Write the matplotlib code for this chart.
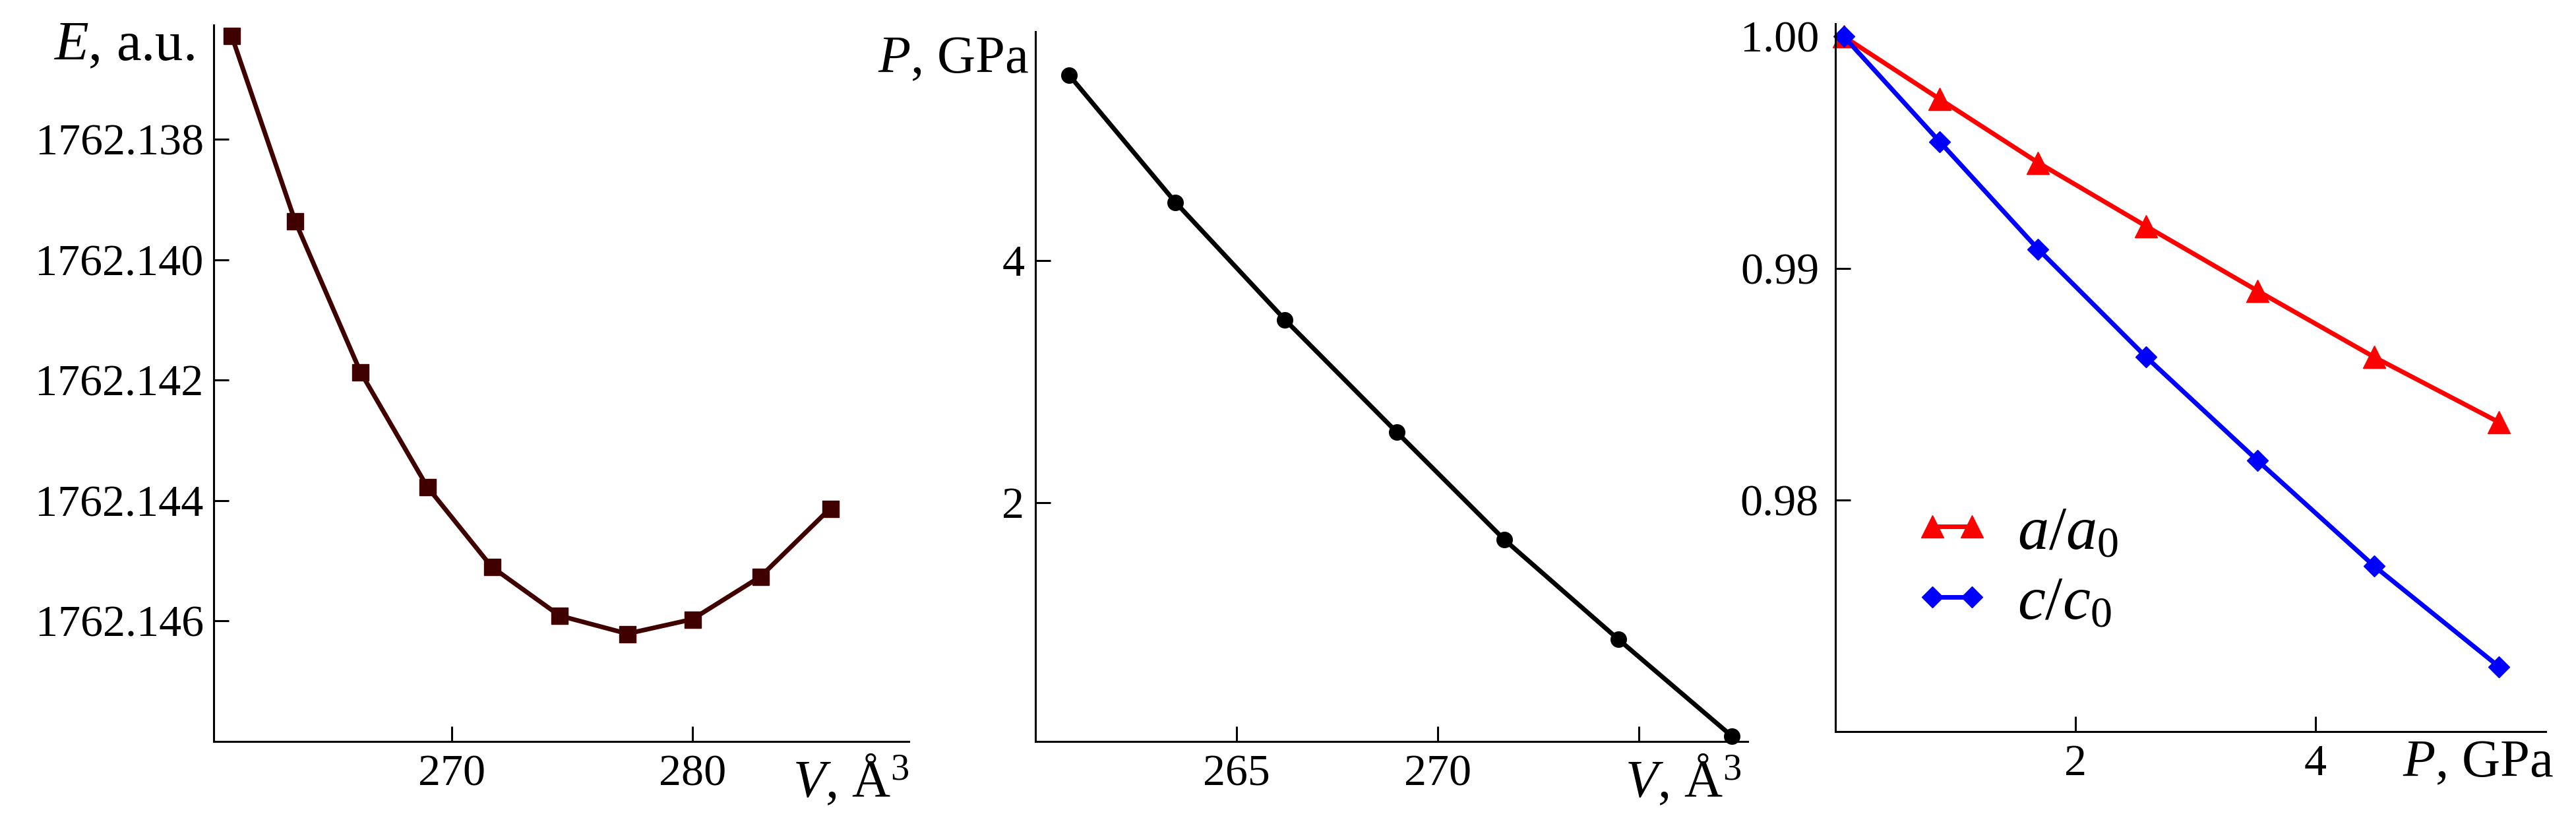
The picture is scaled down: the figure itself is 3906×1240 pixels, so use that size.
import matplotlib
matplotlib.use('Agg')
import matplotlib.pyplot as plt
from matplotlib.lines import Line2D
from matplotlib.legend_handler import HandlerLine2D
from matplotlib.ticker import FormatStrFormatter

# E(V) curve
volume = [260.84, 263.48, 266.20, 268.98, 271.66, 274.48, 277.30, 280.00, 282.84, 285.73]
energy = [1762.13627, 1762.13935, 1762.14186, 1762.14377, 1762.14510,
          1762.14591, 1762.14621, 1762.14597, 1762.14526, 1762.14413]

# P(V) curve
pv_volume = [260.84, 263.48, 266.20, 268.98, 271.66, 274.48, 277.30]
pv_pressure = [5.53, 4.48, 3.51, 2.58, 1.69, 0.87, 0.07]

# lattice ratios vs pressure
pressure = [0.07, 0.87, 1.69, 2.59, 3.52, 4.49, 5.53]
a_ratio = [1.0, 0.9973, 0.99456, 0.99182, 0.98903, 0.98618, 0.98337]
c_ratio = [1.0, 0.99546, 0.99083, 0.98618, 0.98171, 0.97717, 0.97283]

plt.rcParams['font.family'] = ['Liberation Serif', 'DejaVu Serif']
plt.rcParams['mathtext.fontset'] = 'custom'
plt.rcParams['mathtext.rm'] = 'Liberation Serif'
plt.rcParams['mathtext.it'] = 'Liberation Serif:italic'

W, H = 3906, 1240
fig = plt.figure(figsize=(W / 100, H / 100), dpi=100)


def px_axes(l, t, r, b):
    return fig.add_axes([l / W, 1 - b / H, (r - l) / W, (b - t) / H])


def px_text(x, y, s, size=58):
    fig.text(x / W, 1 - y / H, s, ha='right', va='baseline', fontsize=size)


def style(ax, ypad):
    for s in ['top', 'right']:
        ax.spines[s].set_visible(False)
    for s in ['left', 'bottom']:
        ax.spines[s].set_linewidth(2.2)
    ax.tick_params(direction='in', length=16.5, width=2.2, labelsize=49)
    ax.tick_params(axis='x', pad=14)
    ax.tick_params(axis='y', pad=ypad)


ax1 = px_axes(324, 38, 1378, 1124)
ax2 = px_axes(1570, 48, 2650, 1124)
ax3 = px_axes(2783, 36, 3860, 1109)

# panel 1
ax1.plot(volume, energy, color='#400000', lw=5, marker='s', ms=18, clip_on=False)
ax1.set_xlim(260.1, 289.0)
ax1.set_ylim(1762.148, 1762.1361)
ax1.set_xticks([270, 280])
ax1.set_yticks([1762.138, 1762.140, 1762.142, 1762.144, 1762.146])
ax1.yaxis.set_major_formatter(FormatStrFormatter('%.3f'))
style(ax1, 11)

# panel 2
ax2.plot(pv_volume, pv_pressure, color='black', lw=5, marker='o', ms=17, clip_on=False)
ax2.set_xlim(260.0, 277.7)
ax2.set_ylim(0.024, 5.89)
ax2.set_xticks([265, 270, 275])
ax2.set_xticklabels(['265', '270', ''])
ax2.set_yticks([2, 4])
style(ax2, 12)

# panel 3
la, = ax3.plot(pressure, a_ratio, color='#ff0000', lw=5, marker='^', ms=24, clip_on=False)
lc, = ax3.plot(pressure, c_ratio, color='#0000ff', lw=5, marker='D', ms=16, clip_on=False)
ax3.set_xlim(0.0, 5.92)
ax3.set_ylim(0.97003, 1.00055)
ax3.set_xticks([2, 4])
ax3.set_yticks([0.98, 0.99, 1.00])
ax3.yaxis.set_major_formatter(FormatStrFormatter('%.2f'))
style(ax3, 18)

ax3.legend([la, lc], [r'$a/a_0$', r'$c/c_0$'], loc='upper left',
           bbox_to_anchor=(2913 / W, 1 - 765 / H), bbox_transform=fig.transFigure,
           handler_map={Line2D: HandlerLine2D(marker_pad=0.18, numpoints=2)},
           frameon=False, fontsize=68, handlelength=1.0,
           handletextpad=0.55, labelspacing=0.22, borderpad=0, borderaxespad=0)

# axis labels
px_text(295, 91, r'$E$, a.u.', size=61)
px_text(1378, 1208, r'$V$, Å$^3$')
px_text(1560, 110, r'$P$, GPa')
px_text(2640, 1208, r'$V$, Å$^3$')
px_text(3872, 1177, r'$P$, GPa')

fig.savefig('out.png', dpi=100)
